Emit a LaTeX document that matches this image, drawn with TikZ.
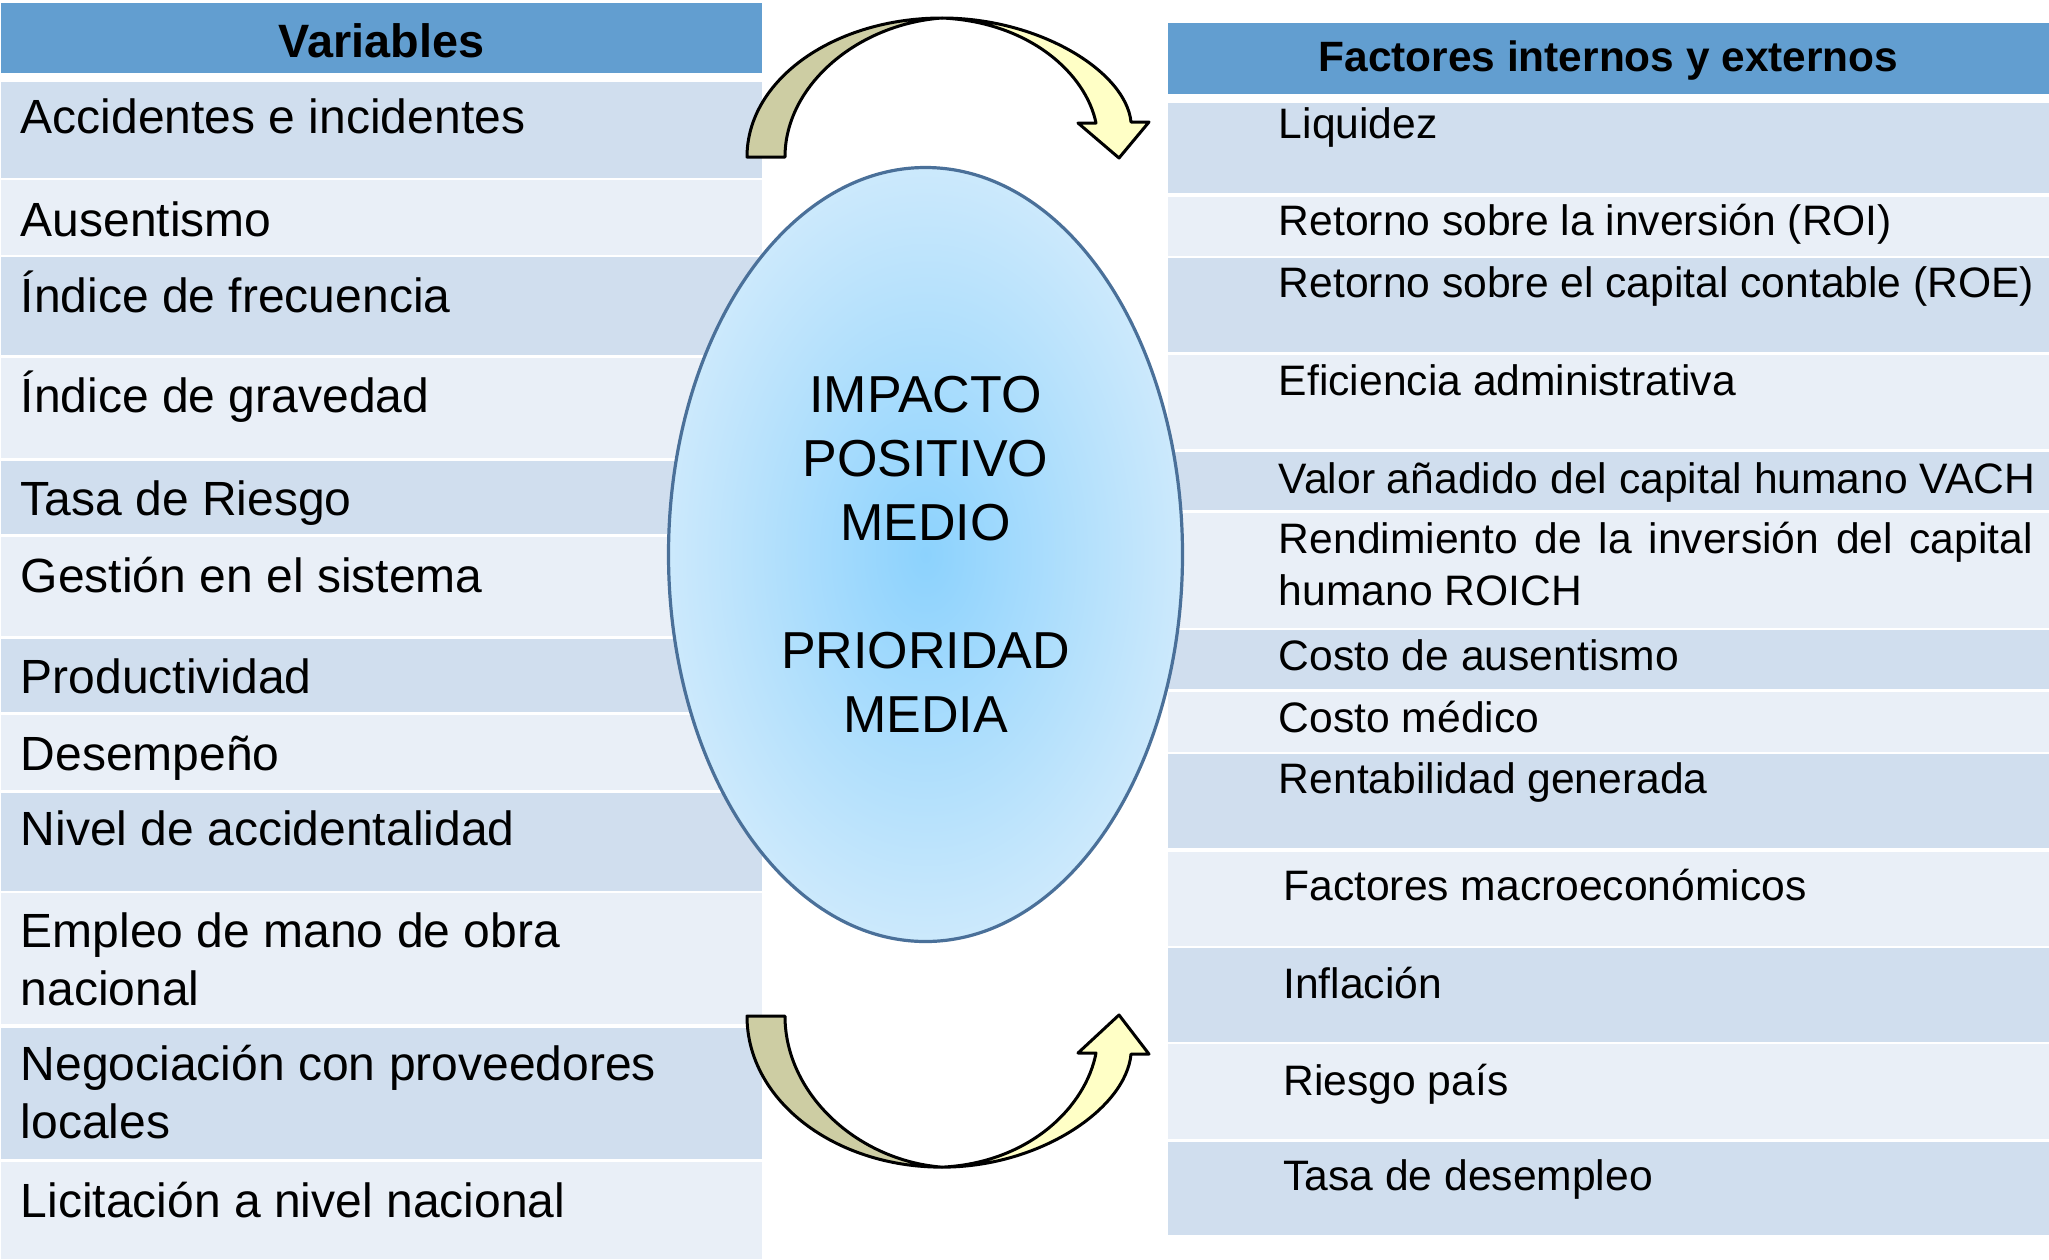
\documentclass[tikz,border=0pt]{standalone}
\usepackage{fontspec}
\setmainfont{Liberation Sans}
\usepackage{xcolor}
\usetikzlibrary{shapes.geometric}

\definecolor{hdr}{RGB}{98,158,208}
\definecolor{rowdk}{RGB}{208,222,238}
\definecolor{rowlt}{RGB}{233,239,247}
\definecolor{olive}{RGB}{205,205,163}
\definecolor{cream}{RGB}{255,255,198}
\definecolor{rim}{RGB}{74,112,153}
\definecolor{skyin}{RGB}{140,210,253}
\definecolor{skyout}{RGB}{204,233,252}

\begin{document}
\begin{tikzpicture}[x=0.5pt,y=-0.5pt]
    \tikzstyle{HD}=[fill=hdr]
    \tikzstyle{DK}=[fill=rowdk]
    \tikzstyle{LT}=[fill=rowlt]
    \tikzstyle{HT}=[anchor=base,inner sep=0pt,font=\bfseries]
    \tikzstyle{VT}=[anchor=base west,inner sep=0pt,align=left,font=\fontsize{24}{28.75}\selectfont]
    \tikzstyle{FT}=[anchor=base west,inner sep=0pt,align=left,font=\fontsize{21.3}{26}\selectfont]
    \tikzstyle{OL}=[fill=olive,draw=black,line width=1.5pt,line join=round]
    \tikzstyle{CR}=[fill=cream,draw=black,line width=1.5pt,line join=round]
    \tikzstyle{EL}=[ellipse,draw=rim,line width=1.6pt,inner color=skyin,outer color=skyout,
                    minimum width=257pt,minimum height=387pt,align=center,
                    font=\fontsize{26}{32}\selectfont]

   \useasboundingbox (0,0) rectangle (2049,1259);

   % left table
   \fill [HD] (1,3) rectangle (762,73);
   \fill [DK] (1,82) rectangle (762,178);
   \fill [LT] (1,180) rectangle (762,255);
   \fill [DK] (1,257) rectangle (762,355);
   \fill [LT] (1,358) rectangle (762,458);
   \fill [DK] (1,461) rectangle (762,534);
   \fill [LT] (1,537) rectangle (762,636);
   \fill [DK] (1,639) rectangle (762,712);
   \fill [LT] (1,715) rectangle (762,790);
   \fill [DK] (1,793) rectangle (762,891);
   \fill [LT] (1,893) rectangle (762,1024);
   \fill [DK] (1,1028) rectangle (762,1159);
   \fill [LT] (1,1162) rectangle (762,1259);

   \node [HT,font=\fontsize{23.4}{27}\selectfont\bfseries] (hvar) at (381.5,57) {Variables};
   \node [VT] (v1) at (20.5,133) {Accidentes e incidentes};
   \node [VT] (v2) at (20.5,236) {Ausentismo};
   \node [VT] (v3) at (20.5,312) {Índice de frecuencia};
   \node [VT] (v4) at (20.5,412) {Índice de gravedad};
   \node [VT] (v5) at (20.5,515) {Tasa de Riesgo};
   \node [VT] (v6) at (20.5,592) {Gestión en el sistema};
   \node [VT] (v7) at (20.5,693) {Productividad};
   \node [VT] (v8) at (20.5,770) {Desempeño};
   \node [VT] (v9) at (20.5,845) {Nivel de accidentalidad};
   \node [VT] (v10) at (20.5,1005) {Empleo de mano de obra\\nacional};
   \node [VT] (v11) at (20.5,1138) {Negociación con proveedores\\locales};
   \node [VT] (v12) at (20.5,1217) {Licitación a nivel nacional};

   % right table
   \fill [HD] (1168,23) rectangle (2049,94);
   \fill [DK] (1168,103) rectangle (2049,193);
   \fill [LT] (1168,197) rectangle (2049,256);
   \fill [DK] (1168,258) rectangle (2049,352);
   \fill [LT] (1168,355) rectangle (2049,449);
   \fill [DK] (1168,452) rectangle (2049,510);
   \fill [LT] (1168,513) rectangle (2049,628);
   \fill [DK] (1168,630) rectangle (2049,689);
   \fill [LT] (1168,692) rectangle (2049,752);
   \fill [DK] (1168,754) rectangle (2049,848);
   \fill [LT] (1168,852) rectangle (2049,946);
   \fill [DK] (1168,948) rectangle (2049,1042);
   \fill [LT] (1168,1044) rectangle (2049,1139);
   \fill [DK] (1168,1142) rectangle (2049,1235);

   \node [HT,font=\fontsize{21.2}{25}\selectfont\bfseries] (hfac) at (1608.5,71) {Factores internos y externos};
   \node [FT] (f1) at (1278.5,138) {Liquidez};
   \node [FT] (f2) at (1278.5,235) {Retorno sobre la inversión (ROI)};
   \node [FT] (f3) at (1278.5,297) {Retorno sobre el capital contable (ROE)};
   \node [FT] (f4) at (1278.5,395) {Eficiencia administrativa};
   \node [FT] (f5) at (1278.5,493) {Valor añadido del capital humano VACH};
   \node [FT] (f6) at (1278.5,605) {\makebox[377pt][s]{Rendimiento de la inversión del capital}\\humano ROICH};
   \node [FT] (f7) at (1278.5,670) {Costo de ausentismo};
   \node [FT] (f8) at (1278.5,732) {Costo médico};
   \node [FT] (f9) at (1278.5,793) {Rentabilidad generada};
   \node [FT] (f10) at (1283,900) {Factores macroeconómicos};
   \node [FT] (f11) at (1283,998) {Inflación};
   \node [FT] (f12) at (1283,1095) {Riesgo país};
   \node [FT] (f13) at (1283,1190) {Tasa de desempleo};

   % centre
   \node [EL] (imp) at (925.5,554.5) {IMPACTO\\POSITIVO\\MEDIO\\[32pt]PRIORIDAD\\MEDIA};

   % curved arrows
   \filldraw [CR] (942,18) .. controls (1040,18) and (1126,72) .. (1131,122) -- (1149,122) -- (1119,158)
        -- (1078,123) -- (1096,123) .. controls (1086,74) and (1030,22) .. (942,18) -- cycle;
   \filldraw [OL] (747,157) .. controls (747,79) and (835,18) .. (942,18)
        .. controls (858,24) and (785,85) .. (785,157) -- cycle;
   \begin{scope}[shift={(0,1186.7)},yscale=-1.087]
   \filldraw [CR] (942,18) .. controls (1040,18) and (1126,72) .. (1131,122) -- (1149,122) -- (1119,158)
        -- (1078,123) -- (1096,123) .. controls (1086,74) and (1030,22) .. (942,18) -- cycle;
   \filldraw [OL] (747,157) .. controls (747,79) and (835,18) .. (942,18)
        .. controls (858,24) and (785,85) .. (785,157) -- cycle;
   \end{scope}
\end{tikzpicture}
\end{document}
